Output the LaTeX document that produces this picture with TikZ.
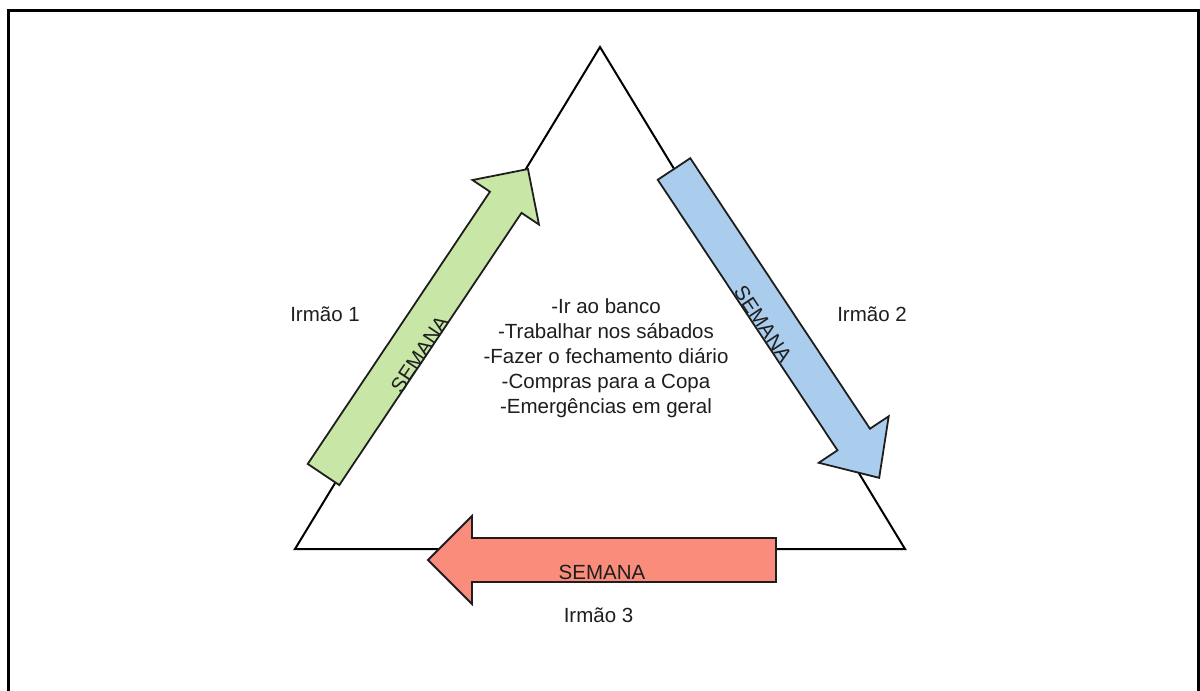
\documentclass[tikz,border=0pt]{standalone}
\usepackage{fontspec}
\setmainfont{Liberation Sans}
\definecolor{weekgreen}{RGB}{200,230,165}
\definecolor{weekblue}{RGB}{170,205,238}
\definecolor{weekred}{RGB}{250,140,124}
\definecolor{ink}{RGB}{30,30,30}

% block arrow: style, tail midpoint, angle, length, half shaft width, half head width, head length
\newcommand\blockarrow[7]{%
  \begin{scope}[shift={#2},rotate=#3]
    \filldraw[#1] (0,-#5) -- ({#4-#7},-#5) -- ({#4-#7},-#6) -- (#4,0)
      -- ({#4-#7},#6) -- ({#4-#7},#5) -- (0,#5) -- cycle;
  \end{scope}}

\tikzset{
  frame/.style={line width=3pt, black},
  tri/.style={line width=2pt, black, line join=miter},
  arrowbody/.style={line width=1.8pt, draw=ink, line join=miter},
  label/.style={font=\fontsize{20.5}{25}\selectfont, text=ink, inner sep=0pt},
}

\begin{document}
\begin{tikzpicture}[x=1pt,y=1pt]
  \useasboundingbox (0,0) rectangle (1200,-691);
  \fill[white] (0,0) rectangle (1200,-691);

  % outer frame (open at the bottom)
  \draw[frame] (8.5,-691) -- (8.5,-10.5) -- (1198.5,-10.5) -- (1198.5,-691);

  % triangle
  \coordinate (apex) at (600,-47);
  \coordinate (bl) at (295,-549);
  \coordinate (br) at (905,-549);
  \draw[tri] (apex) -- (br) -- (bl) -- cycle;

  % weekly rotation arrows
  \blockarrow{arrowbody, fill=weekgreen}{(323.5,-474.5)}{56.2}{367.6}{19}{40}{40}
  \blockarrow{arrowbody, fill=weekblue}{(674,-169)}{-56.4}{370.8}{19.5}{42}{46}
  \blockarrow{arrowbody, fill=weekred}{(776,-560)}{180}{348}{22}{44}{44}

  % arrow captions
  \node[label, rotate=56.2] (wk1) at (419.6,-354.1) {SEMANA};
  \node[label, rotate=-56.4] (wk2) at (763,-324) {SEMANA};
  \node[label] (wk3) at (602,-572) {SEMANA};

  % sibling names
  \node[label, anchor=base] (irmao1) at (325,-321.7) {Irmão 1};
  \node[label, anchor=base] (irmao2) at (872,-321.7) {Irmão 2};
  \node[label, anchor=base] (irmao3) at (598.5,-622.3) {Irmão 3};

  % shared duties
  \node[label, anchor=base] (task1) at (606,-313) {-Ir ao banco};
  \node[label, anchor=base] (task2) at (606,-338) {-Trabalhar nos sábados};
  \node[label, anchor=base] (task3) at (606,-363) {-Fazer o fechamento diário};
  \node[label, anchor=base] (task4) at (606,-388) {-Compras para a Copa};
  \node[label, anchor=base] (task5) at (606,-413) {-Emergências em geral};
\end{tikzpicture}
\end{document}
